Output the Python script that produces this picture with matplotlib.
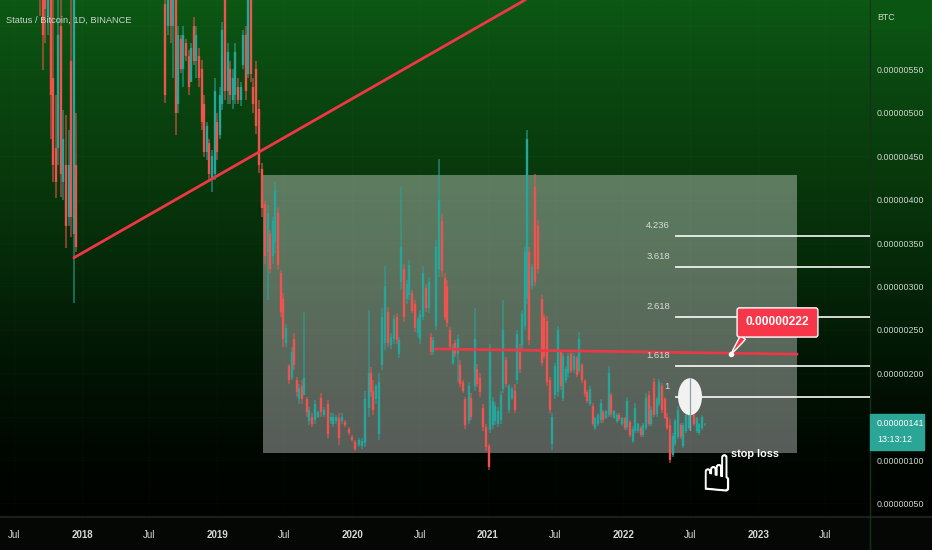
import matplotlib
matplotlib.use('Agg')
import matplotlib.pyplot as plt
import matplotlib.patheffects as pe
import numpy as np
import pandas as pd
from matplotlib.patches import Rectangle, Ellipse

plt.rcParams['font.family'] = ['Liberation Sans', 'DejaVu Sans']

# bars: days since 2018-01-01, prices in satoshi (1e-8 BTC)
bar_days = [-113, -106, -99, -92, -85, -78, -71, -64, -57, -50, -43, -36, -29, -22, -15,
            225, 232, 239, 246, 253, 260, 267, 274, 281, 288, 295, 302, 309, 316, 323, 330, 337, 344, 351,
            358, 365, 372, 379, 386, 393, 400, 407, 414, 421, 428, 435, 442, 449, 456, 463, 470, 477,
            486, 494, 501, 508, 515, 522, 530, 537, 544, 551, 558, 566, 573, 580, 587, 594, 599, 607, 614, 621,
            629, 636, 646, 654, 665, 672, 679, 686, 694, 702, 711, 720, 729, 738, 747, 755, 763, 774, 780, 787,
            794, 802, 810, 819, 825, 834, 843, 850, 855, 862, 870, 877, 883, 891, 898, 906, 913, 920, 928, 936,
            942, 949, 956, 964, 972, 979, 986, 994, 1001, 1008, 1014, 1021, 1028, 1035, 1044, 1051, 1060, 1067, 1075, 1084,
            1090, 1098, 1102, 1109, 1116, 1124, 1131, 1138, 1145, 1152, 1161, 1168, 1175, 1182, 1189, 1197, 1201, 1208, 1215, 1223,
            1230,
            1241, 1248, 1256, 1263, 1270, 1277, 1284, 1292, 1299, 1306, 1313, 1320, 1328, 1336, 1343, 1350, 1357, 1364, 1372, 1379,
            1386, 1393, 1400, 1408, 1415, 1422, 1429, 1436, 1444, 1451, 1458, 1465, 1472, 1480, 1487, 1494, 1501, 1508, 1516, 1523,
            1530, 1537, 1544, 1552, 1559, 1566, 1573, 1580, 1588, 1595, 1602, 1609, 1616, 1624, 1631, 1638, 1645, 1652, 1660, 1667,
            1674, 1681]

bar_high = [680, 700, 720, 710, 680, 640, 520, 740, 700, 503, 497, 480, 760, 780, 500,
            640, 660, 650, 680, 660, 600, 590, 600, 585, 572, 580, 610, 600, 575, 561, 520, 490, 470, 457,
            540, 500, 530, 605, 660, 580, 560, 550, 580, 540, 535, 595, 600, 640, 660, 540, 560, 515,
            442, 399, 394, 365, 380, 420, 392, 319, 292, 257, 211, 230, 246, 196, 188, 192, 271, 173, 161, 154,
            169, 157, 177, 161, 169, 154, 154, 152, 154, 154, 146, 138, 129, 123, 125, 125, 179, 273, 207, 192,
            188, 200, 275, 323, 276, 246, 267, 269, 242, 415, 326, 307, 330, 296, 284, 265, 273, 323, 303, 311,
            246, 242, 353, 447, 384, 315, 307, 253, 234, 238, 244, 215, 192, 173, 190, 177, 275, 211, 200, 165,
            142, 119, 234, 173, 167, 161, 180, 284, 219, 188, 184, 188, 250, 234, 273, 346, 480, 346, 326, 429,
            376,
            290, 268, 266, 196, 154, 212, 254, 227, 223, 208, 223, 227, 223, 220, 248, 212, 193, 181, 185, 166,
            150, 154, 170, 158, 158, 208, 177, 158, 154, 154, 150, 150, 173, 146, 139, 166, 143, 139, 143, 177,
            179, 162, 195, 173, 193, 189, 173, 154, 147, 131, 147, 162, 143, 143, 154, 162, 195, 154, 150, 143,
            152, 143]

bar_low = [612, 549, 580, 590, 470, 420, 402, 440, 403, 400, 344, 370, 357, 281, 340,
           511, 590, 580, 540, 474, 500, 546, 530, 560, 520, 540, 555, 540, 530, 480, 449, 446, 420, 409,
           423, 446, 470, 503, 515, 510, 510, 505, 510, 510, 508, 550, 515, 540, 535, 500, 476, 431,
           380, 326, 284, 315, 326, 338, 319, 265, 230, 230, 188, 192, 204, 173, 165, 165, 177, 150, 140, 138,
           142, 148, 150, 150, 125, 142, 138, 142, 117, 142, 138, 129, 121, 111, 115, 113, 115, 150, 173, 152,
           165, 123, 204, 227, 230, 228, 234, 234, 217, 296, 259, 280, 284, 269, 248, 242, 234, 261, 271, 269,
           221, 221, 250, 311, 311, 261, 253, 227, 209, 219, 190, 184, 177, 136, 142, 146, 180, 184, 173, 134,
           111, 88, 131, 136, 140, 138, 142, 177, 184, 154, 169, 154, 188, 200, 227, 250, 280, 232, 296, 300,
           315,
           208, 216, 185, 154, 112, 170, 173, 181, 168, 189, 196, 200, 200, 196, 200, 189, 173, 166, 162, 139,
           135, 139, 143, 143, 147, 150, 150, 147, 143, 145, 139, 135, 135, 127, 120, 131, 131, 127, 127, 135,
           139, 139, 150, 150, 162, 154, 147, 135, 97, 104, 116, 124, 124, 114, 131, 135, 150, 139, 131, 129,
           135, 139]

bar_open = [670, 640, 690, 610, 650, 540, 460, 460, 600, 420, 440, 380, 560, 360, 440,
            625, 600, 640, 600, 640, 510, 585, 550, 580, 565, 535, 600, 560, 565, 550, 510, 455, 465, 425,
            430, 490, 475, 510, 640, 525, 550, 515, 520, 530, 515, 555, 590, 545, 650, 530, 550, 505,
            435, 395, 340, 360, 335, 350, 385, 315, 285, 235, 208, 195, 240, 192, 170, 185, 175, 170, 145, 150,
            146, 150, 172, 152, 165, 145, 142, 145, 148, 145, 144, 136, 127, 121, 117, 116, 120, 160, 200, 180,
            170, 130, 210, 235, 270, 232, 240, 265, 222, 305, 320, 285, 290, 292, 280, 246, 240, 265, 298, 275,
            242, 225, 255, 320, 375, 310, 300, 250, 212, 235, 222, 210, 190, 170, 145, 172, 185, 205, 195, 160,
            138, 116, 135, 140, 145, 142, 146, 182, 215, 158, 172, 180, 192, 225, 232, 255, 285, 340, 300, 415,
            370,
            285, 265, 260, 192, 118, 175, 178, 225, 172, 192, 200, 222, 204, 218, 203, 210, 191, 178, 165, 162,
            137, 142, 146, 155, 149, 152, 175, 149, 145, 152, 141, 148, 138, 144, 122, 133, 133, 137, 129, 137,
            175, 141, 190, 153, 165, 185, 170, 150, 140, 106, 118, 126, 140, 116, 133, 137, 152, 152, 133, 131,
            137, 141]

bar_close = [640, 590, 620, 680, 520, 440, 420, 590, 430, 470, 370, 440, 380, 700, 345,
             520, 640, 600, 660, 500, 590, 550, 590, 565, 530, 575, 560, 590, 540, 490, 455, 485, 430, 450,
             525, 455, 520, 595, 525, 570, 520, 540, 570, 515, 530, 590, 525, 630, 545, 510, 485, 440,
             390, 335, 385, 320, 375, 410, 325, 270, 240, 252, 192, 225, 210, 178, 183, 170, 195, 155, 158, 142,
             165, 155, 155, 158, 130, 150, 150, 150, 125, 150, 140, 131, 123, 113, 123, 122, 170, 200, 178, 158,
             185, 190, 265, 300, 235, 242, 262, 238, 238, 345, 265, 303, 325, 272, 252, 262, 268, 315, 275, 305,
             225, 238, 345, 400, 318, 265, 258, 230, 230, 222, 240, 188, 180, 140, 185, 150, 240, 188, 178, 138,
             115, 92, 225, 168, 162, 156, 175, 250, 188, 185, 182, 158, 245, 205, 268, 340, 470, 238, 322, 305,
             320,
             212, 220, 190, 158, 150, 208, 250, 185, 220, 205, 220, 203, 220, 198, 240, 192, 176, 168, 182, 142,
             148, 152, 166, 146, 156, 200, 153, 156, 152, 147, 148, 137, 168, 129, 136, 160, 141, 129, 140, 172,
             142, 158, 152, 170, 190, 158, 149, 137, 100, 128, 145, 158, 126, 140, 152, 160, 190, 141, 148, 141,
             150, 142]

price_ticks = [50, 100, 150, 200, 250, 300, 350, 400, 450, 500, 550, 600]
year_labels = ['2018', '2019', '2020', '2021', '2022', '2023']
july_labels = ['2017-07-01', '2018-07-01', '2019-07-01', '2020-07-01', '2021-07-01', '2022-07-01', '2023-07-01']

fib_levels = ['1', '1.618', '2.618', '3.618', '4.236']
fib_prices = [173, 208, 265, 322, 358]

trend_days = [-22, 1196]
trend_prices = [333, 630]
box_days = [489, 1930]
box_prices = [108, 428]
target_days = [955, 1930]
target_prices = [228, 222]
last_price = 141

base = pd.Timestamp('2018-01-01')
def day_of(s):
    return (pd.Timestamp(s) - base).days

def px_day(x):
    return (x - 82) * 2.7

fig = plt.figure(figsize=(9.32, 5.5), dpi=100)

# backdrop over the whole pane
bg = fig.add_axes([0, 0, 1, 1], zorder=0)
bg.axis('off')
shade = np.array([(12, 88, 20), (10, 70, 16), (8, 56, 12), (5, 40, 9), (2, 20, 4), (0, 6, 1), (0, 2, 0)], dtype=float) / 255
stops = np.array([0, 90, 180, 270, 370, 460, 517]) / 517
grad = np.stack([np.interp(np.linspace(0, 1, 256), stops, shade[:, c]) for c in range(3)], axis=1)[:, None, :]
bg.imshow(grad, aspect='auto', extent=[0, 1, 33 / 550, 1], transform=bg.transAxes, interpolation='bilinear')
bg.set_xlim(0, 1)
bg.set_ylim(0, 1)
bg.add_patch(Rectangle((0, 0), 1, 33 / 550, transform=bg.transAxes, color='#050705'))
bg.plot([0, 1], [33 / 550, 33 / 550], color='#1c1f1c', lw=1.5, transform=bg.transAxes)
bg.plot([870 / 932, 870 / 932], [0, 1], color='#17301a', lw=1, transform=bg.transAxes)

ax = fig.add_axes([0, 33 / 550, 870 / 932, 517 / 550], zorder=1)
ax.patch.set_alpha(0)
ax.set_xlim(px_day(0), px_day(870))
ax.set_ylim(34.4, 630)

# faint grid
for s in july_labels + [y + '-01-01' for y in year_labels]:
    ax.axvline(day_of(s), color='white', alpha=0.015, lw=0.8, zorder=0.5)
for p in price_ticks:
    ax.axhline(p, color='white', alpha=0.015, lw=0.8, zorder=0.5)

ax.add_patch(Rectangle((box_days[0], box_prices[0]), box_days[1] - box_days[0], box_prices[1] - box_prices[0],
                       facecolor='white', alpha=0.345, edgecolor='none', zorder=1))

days = np.array(bar_days)
o, h, l, c = map(np.array, (bar_open, bar_high, bar_low, bar_close))
colors = np.where(c >= o, '#26a69a', '#f0524f')
ax.vlines(days, l, h, colors=colors, lw=1.2, alpha=0.65, zorder=2)
ax.vlines(days, np.minimum(o, c), np.maximum(o, c), colors=colors, lw=1.7, zorder=2.2)

ax.plot(trend_days, trend_prices, color='#f23645', lw=2, zorder=3, solid_capstyle='round')
ax.plot(target_days, target_prices, color='#f23645', lw=2, alpha=0.95, zorder=3)

for name, p in zip(fib_levels, fib_prices):
    ax.plot([px_day(676), px_day(870)], [p, p], color='white', lw=1.3, alpha=0.9, zorder=3)
    ax.text(px_day(670), p + 7, name, color='#d8dcd8', fontsize=6.8, ha='right', va='bottom', zorder=4)

ax.add_patch(Ellipse((px_day(690), 173), 24 * 2.7, 37 * 1.152, facecolor='#f2f2f2', edgecolor='none', zorder=3.2))
ax.plot([px_day(690)] * 2, [135, 195], color='#8fa0a0', lw=0.9, zorder=3.3)

# price callout
ax.annotate('0.00000222', xy=(px_day(731), 222), xytext=(px_day(777.5), 258.5),
            color='white', fontsize=8.6, fontweight='bold', ha='center', va='center', zorder=6,
            bbox=dict(boxstyle='round,pad=0.72,rounding_size=0.2', fc='#f7364a', ec='white', lw=1),
            arrowprops=dict(arrowstyle='wedge,tail_width=0.5,shrink_factor=0.6', fc='#f7364a', ec='white', lw=1,
                            relpos=(0.06, 0.0), shrinkA=0, shrinkB=0))
ax.plot([px_day(731)], [222], 'o', ms=3, color='white', zorder=7)

# stop loss mark
hand = ax.text(px_day(717), 80.5, '\u261d', family=['DejaVu Sans'], color='white', fontsize=36, ha='center', va='center', zorder=5)
hand.set_path_effects([pe.withStroke(linewidth=0.8, foreground='white')])
ax.text(px_day(731), 107, 'stop loss', color='white', fontsize=7.8, fontweight='bold', ha='left', va='center', zorder=5)

ax.text(6 / 870, 1 - 20 / 517, 'Status / Bitcoin, 1D, BINANCE', color='#ccd6cc', fontsize=6.7,
        transform=ax.transAxes, ha='left', va='center', zorder=6)

for s in ax.spines.values():
    s.set_visible(False)

ax.yaxis.tick_right()
ax.set_yticks(price_ticks)
ax.set_yticklabels(['%.8f' % (p * 1e-8) for p in price_ticks], color='#d0d6d0', fontsize=6.4)
ax.tick_params(axis='y', length=0, pad=5)

xpos = [day_of(s) for s in july_labels] + [day_of(y + '-01-01') for y in year_labels]
ax.set_xticks(xpos)
ax.set_xticklabels(['Jul'] * len(july_labels) + year_labels, color='#d8d8d8', fontsize=7)
for lab, t in zip(ax.get_xticklabels(), xpos):
    if lab.get_text() != 'Jul':
        lab.set_fontweight('bold')
ax.tick_params(axis='x', length=0, pad=9)

# cover over the cut-off top tick, then the last price tag
fig.add_artist(Rectangle((871 / 932, 1 - 28.5 / 550), 61 / 932, 28.5 / 550, transform=fig.transFigure, color='#0b5513', zorder=4))
fig.add_artist(Rectangle((870 / 932, 1 - 450 / 550), 54 / 932, 36 / 550, transform=fig.transFigure, color='#2aa596', zorder=5))
fig.text(877 / 932, 1 - 424 / 550, '%.8f' % (last_price * 1e-8), color='white', fontsize=6.4, ha='left', va='center', zorder=6)
fig.text(877 / 932, 1 - 440 / 550, '13:13:12', color='white', fontsize=6.4, ha='left', va='center', zorder=6)
fig.text(877 / 932, 1 - 17 / 550, 'BTC', color='#d0d6d0', fontsize=6.4, ha='left', va='center', zorder=6)

fig.savefig('out.png', dpi=100)
